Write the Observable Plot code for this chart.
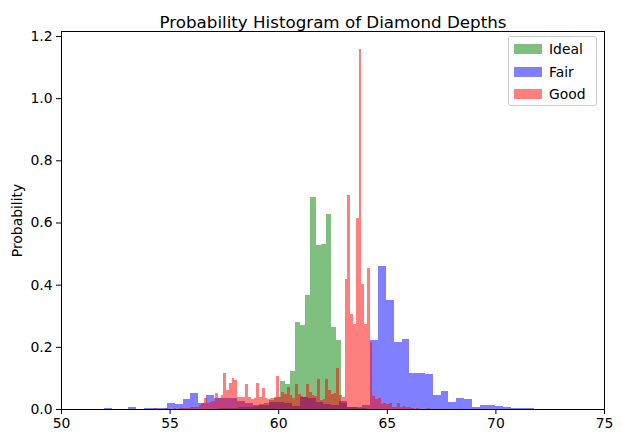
<!DOCTYPE html>
<html><head><meta charset="utf-8">
<script src="https://cdn.jsdelivr.net/npm/d3@7"></script>
<script src="https://cdn.jsdelivr.net/npm/@observablehq/plot@0.6"></script>
<style>
body{margin:0;background:#fff;font-family:"DejaVu Sans",sans-serif}
#wrap{position:relative;width:622px;height:443px}
#legend{position:absolute;left:508px;top:36px;width:89px;height:70px;border:1px solid #cccccc;border-radius:3px;background:rgba(255,255,255,0.8);box-sizing:border-box;font-size:13.9px;color:#000}
.row{position:absolute;left:5px;height:12px;display:flex;align-items:center}
.sw{width:28px;height:10px;margin-right:7px}
</style>
</head><body>
<div id="wrap"><div id="legend"></div></div>
<script>
// Histogram bins (depth), density per bin
const idealStart = 43.0, idealWidth = 0.237, idealFirstBin = 60;
const idealDensity = [
  0.002, 0.002, 0.003, 0.004, 0.005, 0.006, 0.008, 0.010, 0.015, 0.020, 0.030, 0.040,
  0.090, 0.081, 0.123, 0.281, 0.271, 0.368, 0.681, 0.526, 0.532, 0.626, 0.265, 0.223,
  0.020, 0.008, 0.005, 0.003, 0.002, 0.001, 0.001, 0, 0, 0, 0, 0, 0, 0, 0, 0.001
];
const fairStart = 43.0, fairWidth = 0.36, fairFirstBin = 20;
const fairDensity = [
  0, 0, 0, 0, 0, 0.003, 0, 0, 0.006, 0,
  0.003, 0.003, 0.003, 0.019, 0.016, 0.032, 0.052, 0.018, 0.045, 0.035,
  0.035, 0.035, 0.026, 0.020, 0.014, 0.014, 0.022, 0.024, 0.020, 0.011,
  0.038, 0.035, 0.024, 0.016, 0.013, 0.027, 0.006, 0.008, 0.012, 0.223,
  0.461, 0.352, 0.216, 0.226, 0.116, 0.116, 0.113, 0.045, 0.058, 0.023,
  0.035, 0.032, 0.006, 0.013, 0.013, 0.010, 0.006, 0.003, 0.003, 0.003,
  0, 0, 0, 0
];
const goodStart = 54.3, goodWidth = 0.127, goodFirstBin = 0;
const goodDensity = [
  0.002, 0, 0, 0, 0.002, 0, 0, 0.002, 0, 0.002,
  0.003, 0.003, 0.004, 0.006, 0.008, 0.008, 0.012, 0.020, 0.036, 0.020,
  0.022, 0.025, 0.053, 0.035, 0.045, 0.115, 0.061, 0.083, 0.099, 0.094,
  0.040, 0.038, 0.038, 0.081, 0.038, 0.031, 0.035, 0.083, 0.040, 0.067,
  0.035, 0.033, 0.035, 0.035, 0.107, 0.038, 0.055, 0.047, 0.071, 0.045,
  0.034, 0.081, 0.047, 0.043, 0.039, 0.081, 0.056, 0.045, 0.043, 0.097,
  0.028, 0.031, 0.097, 0.061, 0.048, 0.050, 0.133, 0.045, 0.040, 0.419,
  0.688, 0.306, 0.274, 0.613, 1.158, 0.403, 0.274, 0.452, 0.215, 0.042,
  0.032, 0.036, 0.017, 0.019, 0.017, 0.019, 0.008, 0.008, 0.019, 0.008,
  0.011, 0.006, 0.006, 0.002, 0, 0.002, 0, 0, 0, 0.002
];
const seriesNames = ["Ideal", "Fair", "Good"];
const seriesColors = ["green", "blue", "red"];
const xTicks = [50, 55, 60, 65, 70, 75];
const yTicks = [0, 0.2, 0.4, 0.6, 0.8, 1.0, 1.2];
const titleText = "Probability Histogram of Diamond Depths";
const yLabel = "Probability";

function toBins(start, width, first, dens) {
  return dens.map((d, k) => ({x1: start + (first + k) * width, x2: start + (first + k + 1) * width, d}));
}
const seriesBins = [
  toBins(idealStart, idealWidth, idealFirstBin, idealDensity),
  toBins(fairStart, fairWidth, fairFirstBin, fairDensity),
  toBins(goodStart, goodWidth, goodFirstBin, goodDensity)
];

const chart = Plot.plot({
  width: 622, height: 443,
  marginLeft: 61, marginRight: 18, marginTop: 31, marginBottom: 34,
  style: {fontFamily: "DejaVu Sans, sans-serif", fontSize: "13.9px", color: "#000", background: "#fff"},
  x: {domain: [50, 75]},
  y: {domain: [0, 1.216]},
  marks: [
    ...seriesBins.map((bins, i) => Plot.rect(bins, {
      x1: "x1", x2: "x2", y1: () => 0, y2: "d",
      fill: seriesColors[i], fillOpacity: 0.5, inset: 0, shapeRendering: "crispEdges"
    })),
    Plot.axisX({ticks: xTicks, tickSize: 5, tickPadding: 4, label: null, tickFormat: d => String(d)}),
    Plot.axisY({ticks: yTicks, tickSize: 5, tickPadding: 4, tickFormat: d3.format(".1f"),
      label: yLabel, labelAnchor: "center", labelArrow: "none", labelOffset: 49}),
    Plot.frame({stroke: "black", strokeWidth: 1}),
    Plot.text([titleText], {text: d => d, frameAnchor: "top", dy: -15, fontSize: 16.7})
  ]
});
document.getElementById("wrap").prepend(chart);

const legend = document.getElementById("legend");
seriesNames.forEach((name, i) => {
  const row = document.createElement("div");
  row.className = "row";
  row.style.top = (6 + i * 22.5) + "px";
  const sw = document.createElement("div");
  sw.className = "sw";
  sw.style.background = seriesColors[i];
  sw.style.opacity = 0.5;
  const lab = document.createElement("span");
  lab.textContent = name;
  row.appendChild(sw); row.appendChild(lab);
  legend.appendChild(row);
});
</script>
</body></html>
